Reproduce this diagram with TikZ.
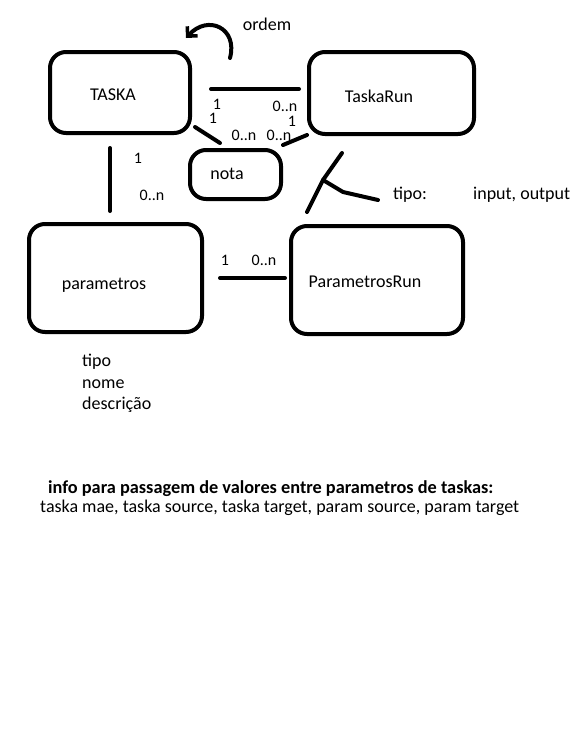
\documentclass[tikz,border=0pt]{standalone}
\usepackage{fontspec}
\setmainfont{Carlito}
\usetikzlibrary{arrows.meta}
\tikzset{
  ent/.style={draw, line width=4pt, rounded corners=16pt, inner sep=0pt},
  txt/.style={font=\fontsize{18}{21.5}\selectfont, inner sep=0pt, text depth=0pt},
  card/.style={txt, font=\fontsize{16}{18}\selectfont},
  link/.style={line width=4pt, line cap=round},
}
\begin{document}
\begin{tikzpicture}[x=1pt,y=-1pt]
  \useasboundingbox[fill=white] (0,0) rectangle (579,750);
  % entities
  \node[ent, minimum width=140, minimum height=81] (taska) at (120,92.5) {};
  \node[ent, minimum width=165, minimum height=82] (taskarun) at (391.5,93) {};
  \node[ent, minimum width=91, minimum height=49] (nota) at (235.5,174.5) {};
  \node[ent, minimum width=173, minimum height=108] (params) at (115.5,278) {};
  \node[ent, minimum width=172, minimum height=108] (paramsrun) at (377,280) {};
  \node[txt] (taskaTxt) at (113,95) {TASKA};
  \node[txt] (taskarunTxt) at (379,96) {TaskaRun};
  \node[txt] (notaTxt) at (227,174) {nota};
  \node[txt] (paramsTxt) at (104,284) {parametros};
  \node[txt] (paramsrunTxt) at (365,282) {ParametrosRun};
  % self relation
  \node[txt] (ordem) at (267,24) {ordem};
  \coordinate (loopA) at (230,58);
  \coordinate (loopB) at (186,38);
  \draw[link, -{Straight Barb[length=7pt, width=14pt, line width=3.5pt]}]
    (loopA) .. controls (238,28) and (208,14) .. (loopB);
  % relations
  \draw[link, shorten <=19, shorten >=8] ([yshift=3.5]taska.east) -- ([yshift=3.5]taska.east -| taskarun.west);
  \draw[link, shorten <=13, shorten >=11] ([xshift=-10]taska.south) -- ([xshift=-10]taska.south |- params.north);
  \draw[link, shorten <=16, shorten >=4] (params.east) -- (params.east -| paramsrun.west);
  \draw[link] ([shift={(3,-8)}]taska.south east) -- ([shift={(32,-5)}]nota.north west);
  \draw[link] ([shift={(0,-3)}]nota.north east) -- ([shift={(0,-1)}]taskarun.south west);
  % tipo of ParametrosRun
  \node[txt, anchor=west] (tipo) at (393,193) {tipo:};
  \node[txt, anchor=west] (tipoVals) at (473,193) {input, output};
  \coordinate (forkTop) at (342,153);
  \coordinate (fork) at (323,180);
  \coordinate (forkBot) at (307,212);
  \draw[link] (forkTop) -- (fork) -- (forkBot);
  \draw[link] (fork) -- (343,192) -- ([shift={(-15,7)}]tipo.west);
  % cardinalities
  \node[card] (c1) at (217,104) {1};
  \node[card] (c2) at (213,118) {1};
  \node[card] (c3) at (285,106) {0..n};
  \node[card] (c4) at (292,121.5) {1};
  \node[card] (c5) at (244,135.5) {0..n};
  \node[card] (c6) at (279,135.5) {0..n};
  \node[card] (c7) at (138,158) {1};
  \node[card] (c8) at (152,195) {0..n};
  \node[card] (c9) at (225,260) {1};
  \node[card] (c10) at (264,260) {0..n};
  % attributes
  \node[txt, align=left, anchor=north west] (attrs) at (82,354) {tipo\\nome\\descrição};
  \node[txt, font=\fontsize{18.3}{21}\selectfont\bfseries, anchor=west] (info) at (48,487)
    {info para passagem de valores entre parametros de taskas:};
  \node[txt, anchor=west] (fields) at (40,506)
    {taska mae, taska source, taska target, param source, param target};
\end{tikzpicture}
\end{document}
